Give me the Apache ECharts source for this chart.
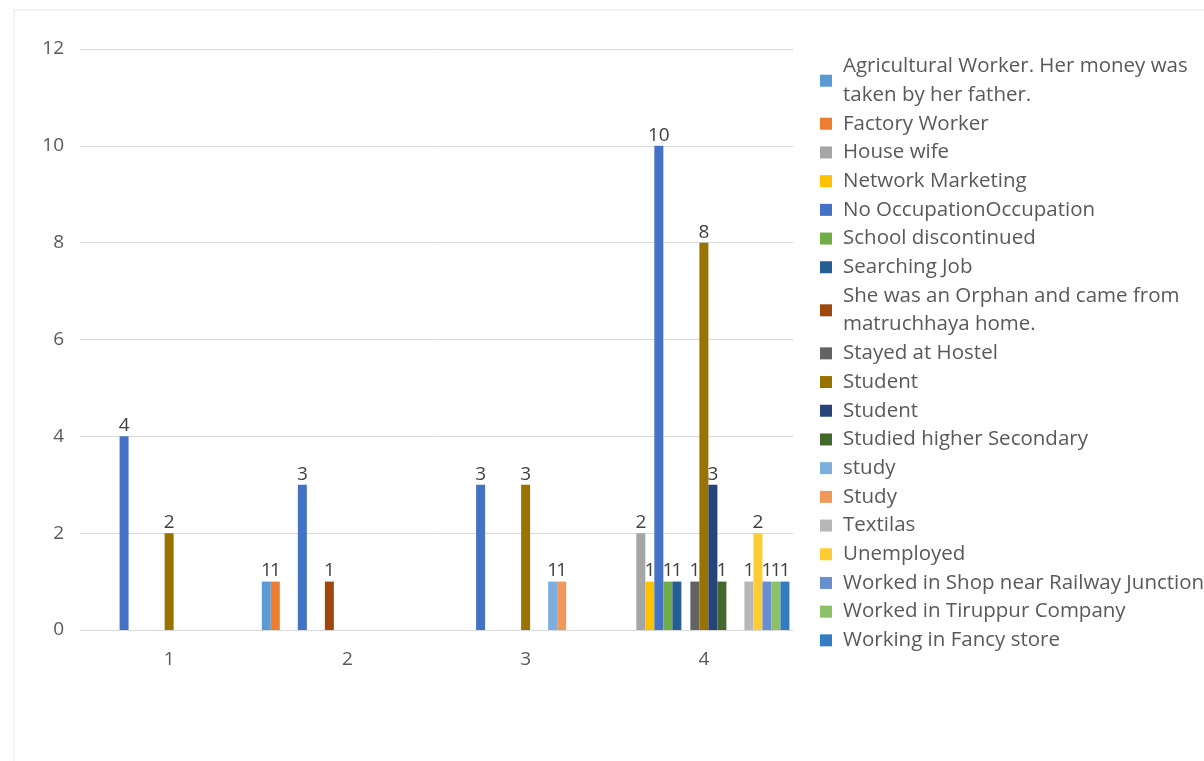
<!DOCTYPE html>
<html>
<head>
<meta charset="utf-8">
<style>
  html, body { margin: 0; padding: 0; background: #ffffff; }
  #chart { width: 1204px; height: 761px; }
</style>
<script src="https://cdn.jsdelivr.net/npm/echarts@6/dist/echarts.min.js"></script>
</head>
<body>
<div id="chart"></div>
<script>
// ---- Data ----
var categories = ['1', '2', '3', '4'];
var yTicks = [0, 2, 4, 6, 8, 10, 12];

var seriesNames = [
  'Agricultural Worker. Her money was taken by her father.',
  'Factory Worker',
  'House wife',
  'Network Marketing',
  'No OccupationOccupation',
  'School discontinued',
  'Searching Job',
  'She was an Orphan and came from matruchhaya home.',
  'Stayed at Hostel',
  'Student',
  'Student ',
  'Studied higher Secondary',
  'study',
  'Study',
  'Textilas',
  'Unemployed',
  'Worked in Shop near Railway Junction',
  'Worked in Tiruppur Company',
  'Working in Fancy store'
];

var agriculturalWorker = [0, 1, 0, 0];
var factoryWorker      = [0, 1, 0, 0];
var houseWife          = [0, 0, 0, 2];
var networkMarketing   = [0, 0, 0, 1];
var noOccupation       = [4, 3, 3, 10];
var schoolDiscontinued = [0, 0, 0, 1];
var searchingJob       = [0, 0, 0, 1];
var orphan             = [0, 1, 0, 0];
var stayedAtHostel     = [0, 0, 0, 1];
var studentA           = [2, 0, 3, 8];
var studentB           = [0, 0, 0, 3];
var studiedHigherSec   = [0, 0, 0, 1];
var studyLower         = [0, 0, 1, 0];
var studyUpper         = [0, 0, 1, 0];
var textilas           = [0, 0, 0, 1];
var unemployed         = [0, 0, 0, 2];
var workedShop         = [0, 0, 0, 1];
var workedTiruppur     = [0, 0, 0, 1];
var workingFancy       = [0, 0, 0, 1];

var seriesValues = [
  agriculturalWorker, factoryWorker, houseWife, networkMarketing, noOccupation,
  schoolDiscontinued, searchingJob, orphan, stayedAtHostel, studentA, studentB,
  studiedHigherSec, studyLower, studyUpper, textilas, unemployed, workedShop,
  workedTiruppur, workingFancy
];

var colors = [
  '#5B9BD5', '#ED7D31', '#A5A5A5', '#FFC000', '#4472C4', '#70AD47', '#255E91',
  '#9E480E', '#636363', '#997300', '#264478', '#43682B', '#7CAFDD', '#F1975A',
  '#B7B7B7', '#FFCD33', '#698ED0', '#8CC168', '#327DC2'
];

// ---- Chart ----
var FONT = '"Open Sans", "Noto Sans", "DejaVu Sans", sans-serif';
var chart = echarts.init(document.getElementById('chart'), null, { renderer: 'canvas' });

var legendWrap = {
  'Agricultural Worker. Her money was taken by her father.': 'Agricultural Worker. Her money was\ntaken by her father.',
  'She was an Orphan and came from matruchhaya home.': 'She was an Orphan and came from\nmatruchhaya home.'
};

var series = seriesNames.map(function (name, i) {
  return {
    name: name,
    type: 'bar',
    data: seriesValues[i],
    barGap: '0%',
    barCategoryGap: '4%',
    itemStyle: { color: colors[i] },
    label: {
      show: true,
      position: 'top',
      distance: 1,
      color: '#404040',
      fontSize: 19,
      fontFamily: FONT,
      formatter: function (p) { return p.value ? String(p.value) : ''; }
    },
    emphasis: { disabled: true }
  };
});

chart.setOption({
  animation: false,
  color: colors,
  backgroundColor: '#ffffff',
  graphic: [{
    type: 'rect',
    shape: { x: 14, y: 10, width: 1260, height: 800 },
    style: { fill: 'none', stroke: '#e6e6e6', lineWidth: 1 },
    silent: true
  }],
  grid: { left: 80, right: 411, top: 49, bottom: 131, containLabel: false },
  legend: {
    orient: 'vertical',
    left: 820,
    top: 52,
    padding: 0,
    itemGap: 0,
    itemWidth: 12,
    itemHeight: 12,
    icon: 'rect',
    data: seriesNames,
    formatter: function (name) { return legendWrap[name] || name; },
    textStyle: {
      color: '#595959',
      fontSize: 20.5,
      fontFamily: FONT,
      lineHeight: 28.7,
      padding: [0, 0, 0, 6]
    },
    selectedMode: false
  },
  xAxis: {
    type: 'category',
    data: categories,
    axisLine: { show: true, lineStyle: { color: '#d9d9d9', width: 1 } },
    axisTick: { show: false },
    axisLabel: { color: '#595959', fontSize: 19, fontFamily: FONT, margin: 20 }
  },
  yAxis: {
    type: 'value',
    min: yTicks[0],
    max: yTicks[yTicks.length - 1],
    interval: 2,
    axisLine: { show: false },
    axisTick: { show: false },
    splitLine: { lineStyle: { color: '#d9d9d9', width: 1 } },
    axisLabel: { color: '#595959', fontSize: 19, fontFamily: FONT, margin: 16 }
  },
  series: series
});
</script>
</body>
</html>
